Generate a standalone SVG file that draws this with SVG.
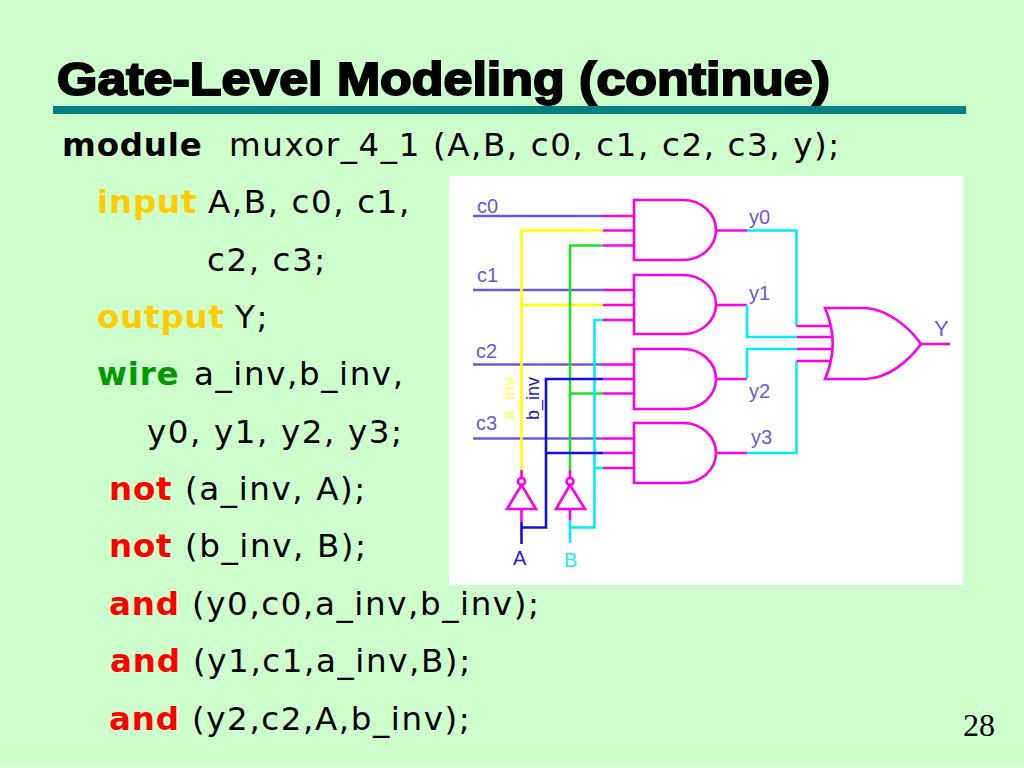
<svg xmlns="http://www.w3.org/2000/svg" width="1024" height="768" viewBox="0 0 1024 768">
<style>
.t{font-family:"DejaVu Sans",Verdana,sans-serif;font-size:32.5px;fill:#000;letter-spacing:1.6px}
.k{font-weight:bold;letter-spacing:0.8px}
.w{fill:none;stroke-width:2.6}
.m{stroke:#ff00e6}.p{stroke:#6a5ae0}.y{stroke:#ffff00}.g{stroke:#22e022}.c{stroke:#00f0f0}.b{stroke:#1010e0}
.gate{fill:none;stroke:#ff00e6;stroke-width:2.6}
.l{font-family:"Liberation Sans",Arial,sans-serif;font-size:20px;fill:#6a5ae0}
.v{font-size:18px}
</style>
<rect width="1024" height="768" fill="#ccffcc"/>
<rect y="766" width="1024" height="2" fill="#d9ffe0"/>
<rect x="53" y="106" width="913" height="8" fill="#008080"/>
<text x="57" y="95" font-family="Liberation Sans,Arial,sans-serif" font-size="46" font-weight="bold" stroke="#000" stroke-width="2" fill="#000" textLength="773" lengthAdjust="spacingAndGlyphs">Gate-Level Modeling (continue)</text>
<rect x="449" y="176" width="514" height="409" fill="#fff"/>
<g id="code">
<text class="t k" x="62" y="156">module</text><text class="t" x="229" y="156">muxor_4_1 (A,B, c0, c1, c2, c3, y);</text>
<text class="t k" x="97" y="213" style="fill:#ffcc00">input</text><text class="t" x="208" y="213">A,B, c0, c1,</text>
<text class="t" x="207" y="271">c2, c3;</text>
<text class="t k" x="97" y="328" style="fill:#ffcc00">output</text><text class="t" x="235" y="328">Y;</text>
<text class="t k" x="97" y="385" style="fill:#009900">wire</text><text class="t" x="194" y="385">a_inv,b_inv,</text>
<text class="t" x="147" y="443">y0, y1, y2, y3;</text>
<text class="t k" x="109" y="500" style="fill:#ff0000">not</text><text class="t" x="185" y="500">(a_inv, A);</text>
<text class="t k" x="109" y="557" style="fill:#ff0000">not</text><text class="t" x="185" y="557">(b_inv, B);</text>
<text class="t k" x="109" y="615" style="fill:#ff0000">and</text><text class="t" x="192" y="615">(y0,c0,a_inv,b_inv);</text>
<text class="t k" x="110" y="672" style="fill:#ff0000">and</text><text class="t" x="193" y="672">(y1,c1,a_inv,B);</text>
<text class="t k" x="109" y="730" style="fill:#ff0000">and</text><text class="t" x="192" y="730">(y2,c2,A,b_inv);</text>
</g>
<text x="963" y="736" font-family="Liberation Serif,Times New Roman,serif" font-size="32" fill="#000">28</text>
<g id="connectors">
<path class="w p" d="M473 216H603M473 290H603M473 364.500H603M473 438.500H603"/>
<path class="w y" d="M603 230.500H521.500V470M521.500 305H603"/>
<path class="w g" d="M603 245.500H570V470M570 393.500H603"/>
<path class="w c" d="M603 320H594.500V527.500H570M570 520V543"/>
<path class="w b" d="M603 379H546V527.500H521.500M521.500 522V544M546 453H603"/>
<path class="w c" d="M594.500 468H603"/>
<path class="w m" d="M603 216H634M603 230.500H634M603 245.500H634M603 290H634M603 305H634M603 320H634M603 364.500H634M603 379H634M603 393.500H634M603 438.500H634M603 453H634M603 468H634"/>
<path class="w m" d="M521.500 470V477M570 470V477M521.500 509V522M570 509V520"/>
<path class="w m" d="M716 230.500H747M716 305H747M716 379H747M716 453H747"/>
<path class="w c" d="M747 230.500H796.500V326M747 305V337H797M797 349H747V379M747 453H796.500V361"/>
<path class="w m" d="M796.500 326H830M797 337H833M797 349H833M796.500 361H830M921 344H950"/>
</g>
<g id="and0"><path class="gate" d="M634 200H683A33 30 0 0 1 683 260H634Z"/></g>
<g id="and1"><path class="gate" d="M634 275H683A33 29.500 0 0 1 683 334H634Z"/></g>
<g id="and2"><path class="gate" d="M634 349H683A33 30 0 0 1 683 409H634Z"/></g>
<g id="and3"><path class="gate" d="M634 423H683A33 30 0 0 1 683 483H634Z"/></g>
<g id="or0"><path class="gate" d="M825 308H866C888 310 908 326 921 344C908 362 888 378 866 379H825C835 356 835 331 825 308Z"/></g>
<g id="not0"><circle class="gate" cx="521.500" cy="481.500" r="3.500"/><path class="gate" d="M521.500 485L536 509H507Z"/></g>
<g id="not1"><circle class="gate" cx="570" cy="481.500" r="3.500"/><path class="gate" d="M570 485L585 509H556Z"/></g>
<g id="labels">
<text class="l" x="477" y="213">c0</text><text class="l" x="477" y="282">c1</text><text class="l" x="476" y="358">c2</text><text class="l" x="476" y="430">c3</text>
<text class="l" x="749" y="224">y0</text><text class="l" x="749" y="300">y1</text><text class="l" x="749" y="398">y2</text><text class="l" x="751" y="444">y3</text>
<text class="l" x="934" y="336" style="font-size:22px">Y</text>
<text class="l" x="513" y="565" style="fill:#1a1ae0">A</text><text class="l" x="564" y="567" style="fill:#22eeee">B</text>
<text class="l v" transform="translate(515 420) rotate(-90)" style="fill:#ffff55">a_inv</text>
<text class="l v" transform="translate(539 420) rotate(-90)" style="fill:#1a1ac8">b_inv</text>
</g>
</svg>
